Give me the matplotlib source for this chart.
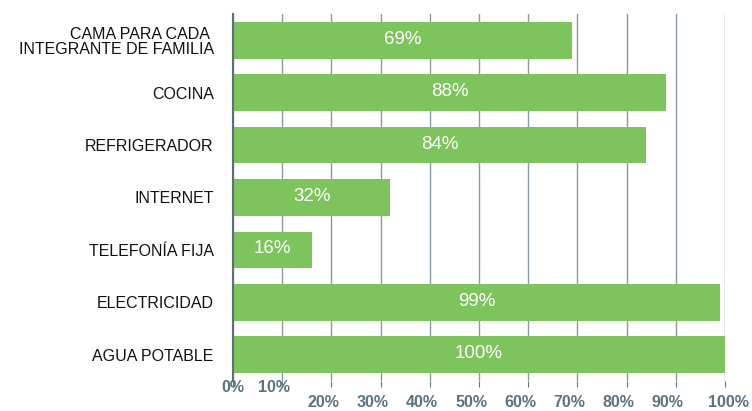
import matplotlib.pyplot as plt
import matplotlib.transforms as mtransforms

# servicios en la vivienda (% de hogares)
categorias = [
    "CAMA PARA CADA \nINTEGRANTE DE FAMILIA",
    "COCINA",
    "REFRIGERADOR",
    "INTERNET",
    "TELEFONÍA FIJA",
    "ELECTRICIDAD",
    "AGUA POTABLE",
]
porcentajes = [69, 88, 84, 32, 16, 99, 100]
ticks = list(range(0, 101, 10))
tick_labels = [f"{t}%" for t in ticks]

verde = "#7DC45C"
gris_azul = "#5B7380"

plt.rcParams["font.family"] = ["Liberation Sans", "DejaVu Sans"]

fig = plt.figure(figsize=(7.52, 4.11), dpi=100)
ax = fig.add_axes([0.31, 0.073, 0.654, 0.893])

pos = list(range(len(categorias)))
ax.barh(pos, porcentajes, height=0.7, color=verde, zorder=3)

for y, v in zip(pos, porcentajes):
    ax.text(v / 2, y - 0.02, f"{v}%", color="white", fontsize=13.5,
            ha="center", va="center", zorder=4)

ax.set_xlim(0, 100)
ax.set_ylim(len(categorias) - 0.5, -0.5)
ax.set_yticks(pos)
ax.set_yticklabels(categorias, fontsize=11.5, color="#111111", linespacing=1.0)
ax.tick_params(axis="y", length=0, pad=14)

ax.set_xticks(ticks)
ax.set_xticklabels(tick_labels, fontsize=11.5, fontweight="bold", color=gris_azul)
ax.tick_params(axis="x", length=4, color=gris_azul, pad=6)

# los dos primeros rótulos quedan más arriba que el resto
for i, lab in enumerate(ax.get_xticklabels()):
    dx, dy = 0, 0
    if i in (0, 1):
        dy = 15
    if 1 <= i <= 9:
        dx = -8
    if i == 10:
        dx = 4
    lab.set_transform(lab.get_transform() +
                      mtransforms.ScaledTranslation(dx / 100, dy / 100, fig.dpi_scale_trans))

ax.grid(axis="x", color="#8A9AA4", linewidth=1, zorder=0)
for s in ["top", "right", "bottom"]:
    ax.spines[s].set_visible(False)
ax.spines["left"].set_color("#5F6F78")
ax.spines["left"].set_linewidth(1.5)
ax.spines["left"].set_zorder(5)

fig.savefig("out.png", dpi=100)
